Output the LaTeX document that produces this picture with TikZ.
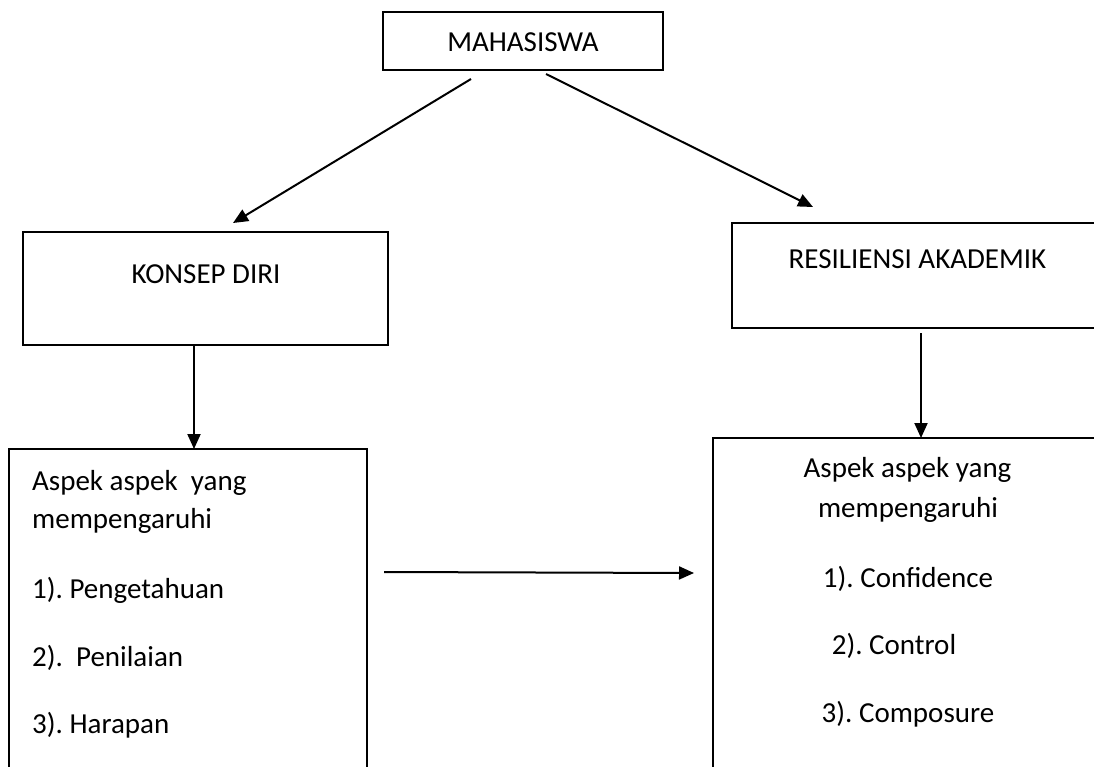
\documentclass[tikz,border=0pt]{standalone}
\usepackage{fontspec}
\setmainfont{Carlito}
\usetikzlibrary{arrows.meta}
\frenchspacing
\begin{document}
\begin{tikzpicture}[x=1pt,y=-1pt,
  box/.style={draw, line width=2.2pt, rectangle, inner sep=0pt},
  lbl/.style={anchor=base, inner sep=0pt, font=\fontsize{29}{35}\selectfont},
  lbll/.style={anchor=base west, inner sep=0pt, font=\fontsize{29}{35}\selectfont},
  arr/.style={line width=2pt, -{Triangle[length=15pt,width=13pt]}}]
\useasboundingbox (0,0) rectangle (1094,766);
\fill[white] (0,0) rectangle (1094,766);
\clip (0,0) rectangle (1094,766);
% boxes
\node[box, minimum width=280pt, minimum height=58pt] (mhs) at (523,41) {};
\node[box, minimum width=365pt, minimum height=113pt] (konsep) at (205.5,288.5) {};
\node[box, minimum width=371pt, minimum height=105pt] (resil) at (917.5,275.5) {};
\node[box, minimum width=358pt, minimum height=371pt] (aspl) at (188,634.5) {};
\node[box, minimum width=437pt, minimum height=382pt] (aspr) at (931.5,629) {};
% texts
\node[lbl] (tmhs) at (523,51) {MAHASISWA};
\node[lbl] (tkonsep) at (206,283) {KONSEP DIRI};
\node[lbl] (tresil) at (917.5,268) {RESILIENSI AKADEMIK};
\node[lbll] (l1) at (32,490) {Aspek aspek\ \ yang};
\node[lbll] (l2) at (32,528) {mempengaruhi};
\node[lbll] (l3) at (32,598) {1). Pengetahuan};
\node[lbll] (l4) at (32,666) {2).\ \ Penilaian};
\node[lbll] (l5) at (32,733) {3). Harapan};
\node[lbl] (r1) at (907.5,477) {Aspek aspek yang};
\node[lbl] (r2) at (908,517) {mempengaruhi};
\node[lbl] (r3) at (908,587) {1). Confidence};
\node[lbl] (r4) at (894,654) {2). Control};
\node[lbl] (r5) at (908,722) {3). Composure};
% connector ends
\coordinate (m1) at (471,79);
\coordinate (k1) at (233,223);
\coordinate (m2) at (546,74);
\coordinate (r0) at (813,207);
\coordinate (kb) at (194,345);
\coordinate (at) at (194,449);
\coordinate (rb) at (921,333);
\coordinate (art) at (921,438);
\coordinate (h1) at (384,572);
\coordinate (h2) at (694,573);
\draw[arr] (m1) -- (k1);
\draw[arr] (m2) -- (r0);
\draw[arr] (kb) -- (at);
\draw[arr] (rb) -- (art);
\draw[arr] (h1) -- (h2);
\end{tikzpicture}
\end{document}
